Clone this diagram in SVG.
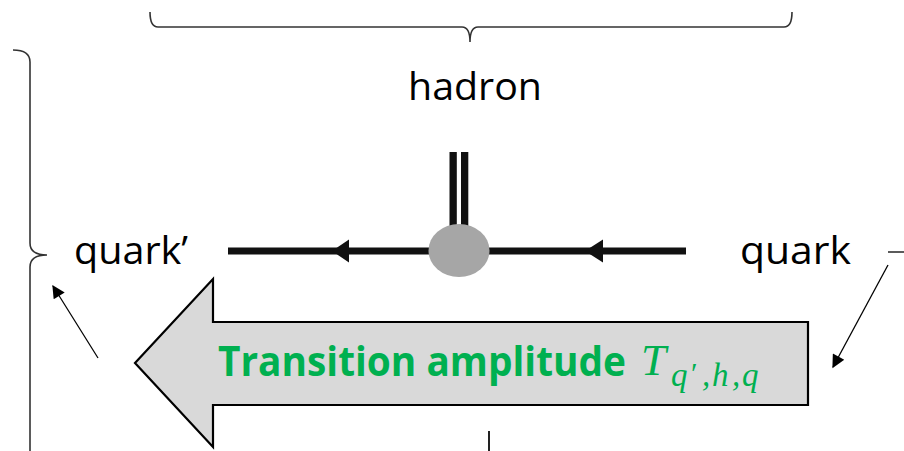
<svg xmlns="http://www.w3.org/2000/svg" width="904" height="451" viewBox="0 0 904 451">
<style>
.brace{fill:none;stroke:#333;stroke-width:1.6}
.lbl{font-family:"Open Sans","Liberation Sans",sans-serif;font-size:38px;fill:#000}
.thin{stroke:#000;stroke-width:1.3;fill:none}
.math{font-family:"Liberation Serif","DejaVu Serif",serif;font-style:italic;fill:#00B050}
</style>
<defs>
<marker id="ah" viewBox="0 0 10 10" refX="9" refY="5" markerWidth="17" markerHeight="13" markerUnits="userSpaceOnUse" orient="auto">
<path d="M0,0 L10,5 L0,10 z" fill="#000"/>
</marker>
</defs>
<rect width="904" height="451" fill="#fff"/>
<g id="braces">
<path class="brace" d="M150,12 Q150,27 158,27 L462,27 Q470,27 470,42 Q470,27 478,27 L784,27 Q792,27 792,12"/>
<path class="brace" d="M13,50 Q30,50 30,62 L30,243 Q30,255 47,255 Q30,255 30,267 L30,451"/>
<path class="brace" d="M888,252 L904,252"/>
<line x1="489" y1="431" x2="489" y2="451" stroke="#222" stroke-width="2"/>
</g>
<g id="transition-arrow">
<polygon points="135,363 213,279 213,322 808,322 808,405 213,405 213,447" fill="#D9D9D9" stroke="#000" stroke-width="2.2" stroke-linejoin="miter"/>
<text x="218" y="376" font-family="'Open Sans','Liberation Sans',sans-serif" font-weight="bold" font-size="42" fill="#00B050" textLength="408" lengthAdjust="spacingAndGlyphs">Transition amplitude</text>
<text class="math" x="641" y="375" font-size="45">T<tspan x="671" y="386" font-size="33">q</tspan><tspan x="691" y="383" font-style="normal" font-size="30">′</tspan><tspan x="702" y="386" font-size="33">,</tspan><tspan x="712" font-size="33">h</tspan><tspan x="732" font-size="33">,</tspan><tspan x="742" font-size="33">q</tspan></text>
</g>
<g id="connectors">
<line class="thin" x1="98" y1="358" x2="53" y2="286" marker-end="url(#ah)"/>
<line class="thin" x1="888" y1="265" x2="833" y2="367" marker-end="url(#ah)"/>
</g>
<g id="vertex">
<rect x="228" y="247.5" width="458" height="7" fill="#111"/>
<polygon points="332,251 349,239.5 349,262.5" fill="#111"/>
<polygon points="585,251 603,239.5 603,262.5" fill="#111"/>
<rect x="449.5" y="152" width="7.3" height="90" fill="#111"/>
<rect x="461" y="152" width="7.3" height="90" fill="#111"/>
<ellipse cx="459" cy="250.5" rx="30.5" ry="26.5" fill="#A6A6A6"/>
</g>
<g id="hadron"><text class="lbl" x="408" y="100" textLength="134" lengthAdjust="spacingAndGlyphs">hadron</text></g>
<g id="quark-prime"><text class="lbl" x="74" y="264" textLength="114" lengthAdjust="spacingAndGlyphs">quark’</text></g>
<g id="quark"><text class="lbl" x="740" y="264" textLength="111" lengthAdjust="spacingAndGlyphs">quark</text></g>
</svg>
